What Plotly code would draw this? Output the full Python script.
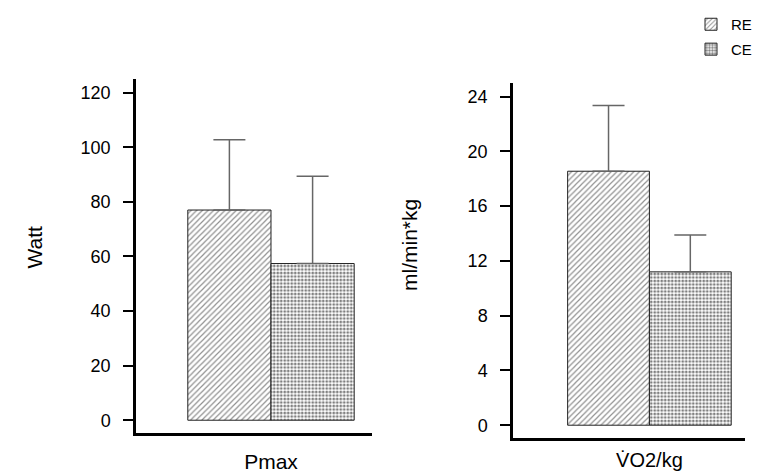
import plotly.graph_objects as go

# Page body has an 8px margin; the figure starts 8px in and runs to the window edge
OFF = 8
W, H = 765 - OFF, 474 - OFF

groups = ["RE", "CE"]
pmax_mean = [77.0, 57.4]
pmax_sd = [25.7, 32.0]
vo2_mean = [18.55, 11.2]
vo2_sd = [4.8, 2.7]
panel_labels = ["Pmax", "V\u0307O2/kg"]
left_ticks = [0, 20, 40, 60, 80, 100, 120]
right_ticks = [0, 4, 8, 12, 16, 20, 24]
y_titles = ["Watt", "ml/min*kg"]

FONT = "Liberation Sans, Arial, Helvetica, sans-serif"


def px(x):
    return (x - OFF) / W


def py(y):
    return 1 - (y - OFF) / H


patterns = {
    "RE": dict(shape="/", fgcolor="#222222", bgcolor="white", size=4, solidity=0.3),
    "CE": dict(shape=".", fgcolor="#000000", bgcolor="white", size=3.5, solidity=0.5),
}
legend_ids = {"RE": "legend", "CE": "legend2"}

fig = go.Figure()
for i, g in enumerate(groups):
    err = dict(type="data", array=[pmax_sd[i]], arrayminus=[0], symmetric=False,
               color="#666666", thickness=1.5, width=16)
    fig.add_trace(go.Bar(
        x=[panel_labels[0]], y=[pmax_mean[i]], name=g,
        marker=dict(color="white", pattern=patterns[g], line=dict(color="#222222", width=1)),
        error_y=err, xaxis="x", yaxis="y", legend=legend_ids[g], showlegend=True,
    ))
    err2 = dict(type="data", array=[vo2_sd[i]], arrayminus=[0], symmetric=False,
                color="#666666", thickness=1.5, width=16)
    fig.add_trace(go.Bar(
        x=[panel_labels[1]], y=[vo2_mean[i]], name=g,
        marker=dict(color="white", pattern=patterns[g], line=dict(color="#222222", width=1)),
        error_y=err2, xaxis="x2", yaxis="y2", showlegend=False,
    ))

axis_common = dict(showline=True, linecolor="black", linewidth=2.5, showgrid=False,
                   zeroline=False, fixedrange=True, automargin=False)

fig.update_layout(
    width=W, height=H,
    autosize=False,
    margin=dict(l=0, r=0, t=0, b=0, pad=0),
    paper_bgcolor="white", plot_bgcolor="white",
    font=dict(family=FONT, color="black"),
    barmode="group", bargap=0.295, bargroupgap=0,
    xaxis=dict(domain=[px(136), px(372)], range=[-0.572, 0.428], anchor="y",
               type="category", ticks="", tickfont=dict(size=21),
               ticklabelstandoff=8, **axis_common),
    yaxis=dict(domain=[py(433), py(77)], range=[-4.74, 125.1], anchor="x",
               tickvals=left_ticks, ticks="outside", ticklen=10, tickwidth=2,
               tickcolor="black", tickfont=dict(size=18), ticklabelstandoff=9,
               **axis_common),
    xaxis2=dict(domain=[px(513), px(745)], range=[-0.588, 0.412], anchor="y2",
                type="category", ticks="", tickfont=dict(size=20),
                ticklabelstandoff=2, **axis_common),
    yaxis2=dict(domain=[py(438), py(81.5)], range=[-0.945, 24.98], anchor="x2",
                tickvals=right_ticks, ticks="outside", ticklen=10, tickwidth=2,
                tickcolor="black", tickfont=dict(size=18), ticklabelstandoff=9,
                **axis_common),
    legend=dict(x=px(691), y=py(6), xanchor="left", yanchor="top",
                font=dict(size=15), bgcolor="rgba(0,0,0,0)", itemclick=False),
    legend2=dict(x=px(691), y=py(31), xanchor="left", yanchor="top",
                 font=dict(size=15), bgcolor="rgba(0,0,0,0)", itemclick=False),
    annotations=[
        dict(text=y_titles[0], x=px(21), y=py(246), xref="paper", yref="paper",
             showarrow=False, textangle=-90, font=dict(size=21)),
        dict(text=y_titles[1], x=px(410), y=py(244), xref="paper", yref="paper",
             showarrow=False, textangle=-90, font=dict(size=21)),
    ],
)

fig.write_html("out.html")
